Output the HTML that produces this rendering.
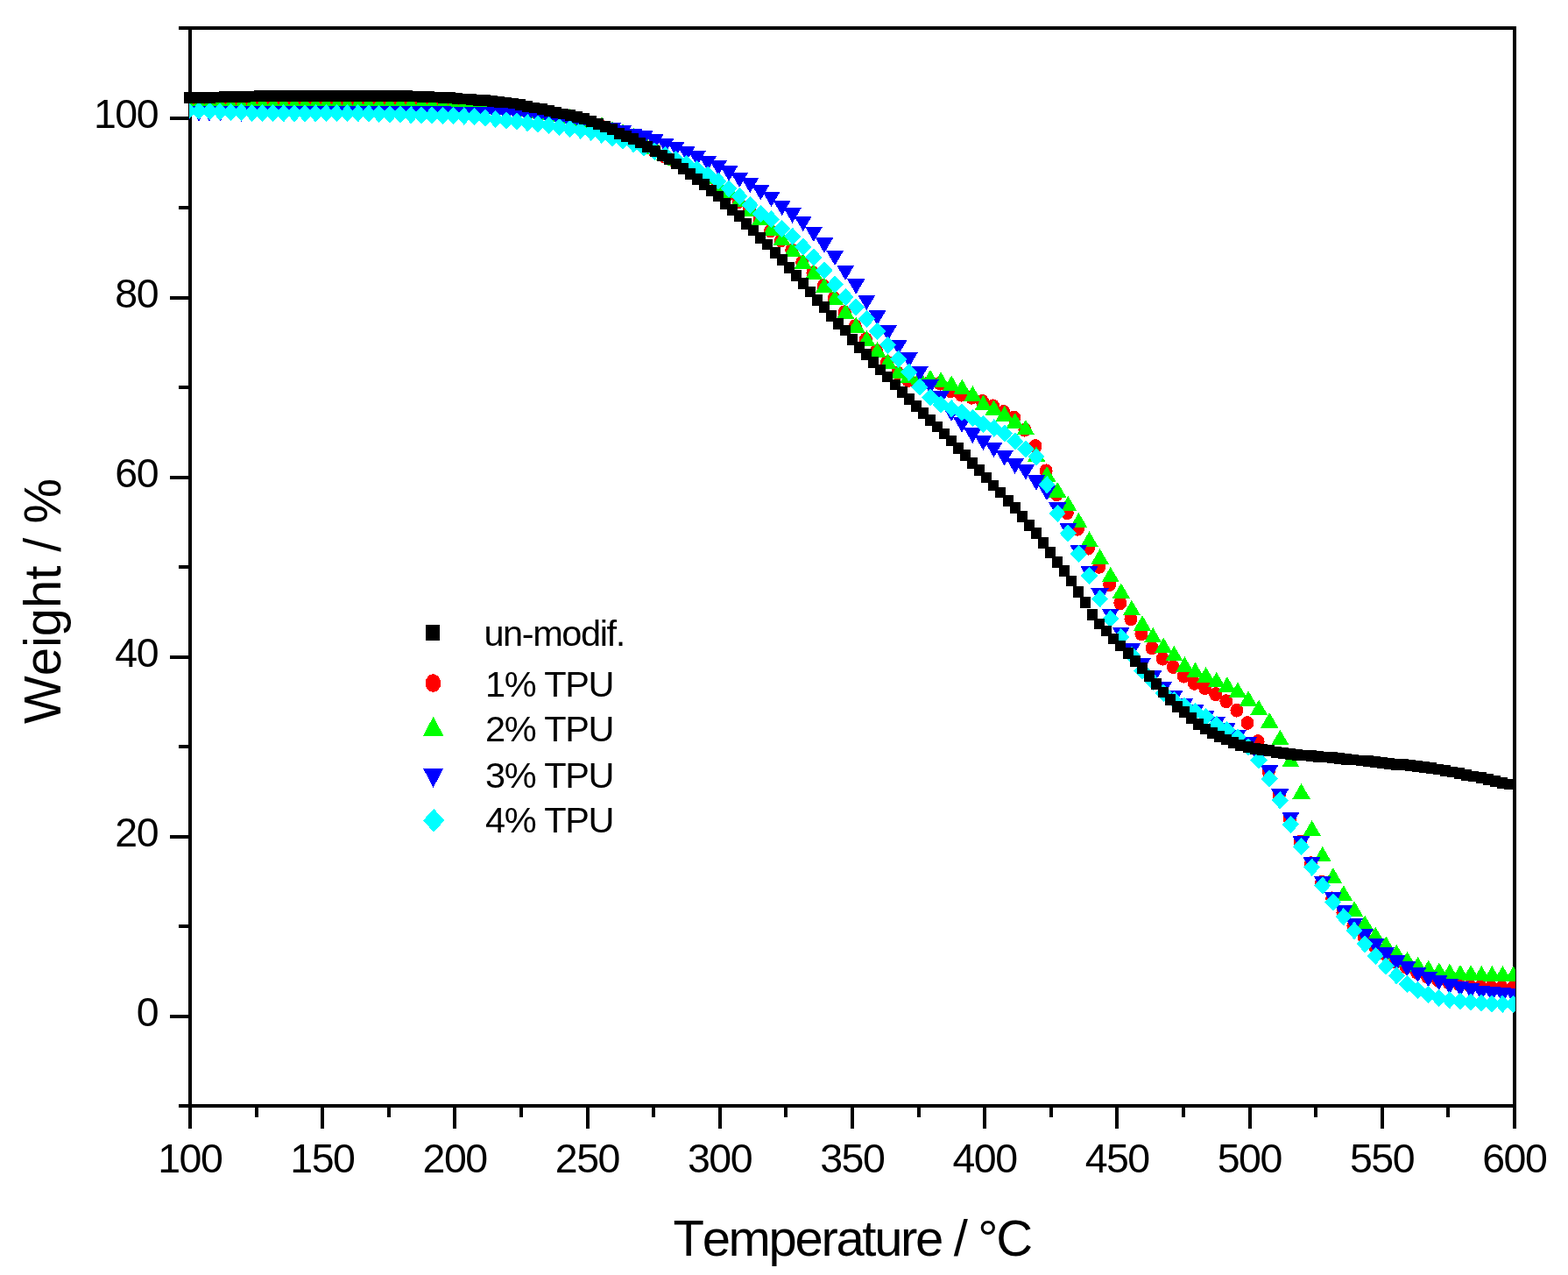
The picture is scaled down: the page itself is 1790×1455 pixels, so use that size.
<!DOCTYPE html>
<html><head><meta charset="utf-8"><title>TGA curves</title>
<style>
html,body{margin:0;padding:0;background:#fff;overflow:hidden}
svg{display:block}
text{font-family:"Liberation Sans",Arial,sans-serif;fill:#000;font-kerning:none}
</style></head><body>
<svg width="1790" height="1455" viewBox="0 0 1790 1455">
<defs><clipPath id="pc"><rect x="216" y="33" width="1514" height="1228"/></clipPath></defs>
<rect width="1790" height="1455" fill="#fff"/>

<path d="M217 1262v25.7M292.6 1262v13M368.2 1262v25.7M443.8 1262v13M519.4 1262v25.7M595 1262v13M670.6 1262v25.7M746.2 1262v13M821.8 1262v25.7M897.4 1262v13M973 1262v25.7M1048.6 1262v13M1124.2 1262v25.7M1199.8 1262v13M1275.4 1262v25.7M1351 1262v13M1426.6 1262v25.7M1502.2 1262v13M1577.8 1262v25.7M1653.4 1262v13M1729 1262v25.7M217 1262h-13M217 1159.5h-23.5M217 1057h-13M217 954.5h-23.5M217 852h-13M217 749.5h-23.5M217 647h-13M217 544.5h-23.5M217 442h-13M217 339.5h-23.5M217 237h-13M217 134.5h-23.5M217 32h-13" stroke="#000" stroke-width="4" fill="none" shape-rendering="crispEdges"/>
<rect x="217" y="32" width="1512" height="1230" fill="none" stroke="#000" stroke-width="4" shape-rendering="crispEdges"/>
<text x="216.8" y="1338.2" font-size="46.5" letter-spacing="-1.5" text-anchor="middle">100</text>
<text x="367.9" y="1338.2" font-size="46.5" letter-spacing="-1.5" text-anchor="middle">150</text>
<text x="519.1" y="1338.2" font-size="46.5" letter-spacing="-1.5" text-anchor="middle">200</text>
<text x="670.4" y="1338.2" font-size="46.5" letter-spacing="-1.5" text-anchor="middle">250</text>
<text x="821.5" y="1338.2" font-size="46.5" letter-spacing="-1.5" text-anchor="middle">300</text>
<text x="972.8" y="1338.2" font-size="46.5" letter-spacing="-1.5" text-anchor="middle">350</text>
<text x="1124" y="1338.2" font-size="46.5" letter-spacing="-1.5" text-anchor="middle">400</text>
<text x="1275.2" y="1338.2" font-size="46.5" letter-spacing="-1.5" text-anchor="middle">450</text>
<text x="1426.3" y="1338.2" font-size="46.5" letter-spacing="-1.5" text-anchor="middle">500</text>
<text x="1577.5" y="1338.2" font-size="46.5" letter-spacing="-1.5" text-anchor="middle">550</text>
<text x="1728.8" y="1338.2" font-size="46.5" letter-spacing="-1.5" text-anchor="middle">600</text>
<text x="180" y="1170.9" font-size="46.5" letter-spacing="-1.5" text-anchor="end">0</text>
<text x="180" y="965.9" font-size="46.5" letter-spacing="-1.5" text-anchor="end">20</text>
<text x="180" y="760.9" font-size="46.5" letter-spacing="-1.5" text-anchor="end">40</text>
<text x="180" y="555.9" font-size="46.5" letter-spacing="-1.5" text-anchor="end">60</text>
<text x="180" y="350.9" font-size="46.5" letter-spacing="-1.5" text-anchor="end">80</text>
<text x="180" y="145.9" font-size="46.5" letter-spacing="-1.5" text-anchor="end">100</text>
<text x="768.6" y="1432.5" font-size="58" letter-spacing="-2.33">Temperature / °C</text>
<text transform="translate(69.1 826) rotate(-90) scale(1 1.035)" font-size="58" letter-spacing="-0.05">Weight / %</text>
<g clip-path="url(#pc)" shape-rendering="crispEdges">
<path fill="#f00" d="M206.5 117a7.5 8 0 1 0 15 0a7.5 8 0 1 0 -15 0zM218.6 117a7.5 8 0 1 0 15 0a7.5 8 0 1 0 -15 0zM230.7 117a7.5 8 0 1 0 15 0a7.5 8 0 1 0 -15 0zM242.8 117a7.5 8 0 1 0 15 0a7.5 8 0 1 0 -15 0zM254.9 117a7.5 8 0 1 0 15 0a7.5 8 0 1 0 -15 0zM267 117a7.5 8 0 1 0 15 0a7.5 8 0 1 0 -15 0zM279.1 117a7.5 8 0 1 0 15 0a7.5 8 0 1 0 -15 0zM291.2 117a7.5 8 0 1 0 15 0a7.5 8 0 1 0 -15 0zM303.3 117a7.5 8 0 1 0 15 0a7.5 8 0 1 0 -15 0zM315.4 117a7.5 8 0 1 0 15 0a7.5 8 0 1 0 -15 0zM327.5 117a7.5 8 0 1 0 15 0a7.5 8 0 1 0 -15 0zM339.6 117a7.5 8 0 1 0 15 0a7.5 8 0 1 0 -15 0zM351.7 117a7.5 8 0 1 0 15 0a7.5 8 0 1 0 -15 0zM363.8 117a7.5 8 0 1 0 15 0a7.5 8 0 1 0 -15 0zM375.9 117a7.5 8 0 1 0 15 0a7.5 8 0 1 0 -15 0zM388 117a7.5 8 0 1 0 15 0a7.5 8 0 1 0 -15 0zM400.1 117a7.5 8 0 1 0 15 0a7.5 8 0 1 0 -15 0zM412.2 117a7.5 8 0 1 0 15 0a7.5 8 0 1 0 -15 0zM424.3 117a7.5 8 0 1 0 15 0a7.5 8 0 1 0 -15 0zM436.4 117a7.5 8 0 1 0 15 0a7.5 8 0 1 0 -15 0zM448.5 117a7.5 8 0 1 0 15 0a7.5 8 0 1 0 -15 0zM460.6 117a7.5 8 0 1 0 15 0a7.5 8 0 1 0 -15 0zM472.7 117.1a7.5 8 0 1 0 15 0a7.5 8 0 1 0 -15 0zM484.8 117.2a7.5 8 0 1 0 15 0a7.5 8 0 1 0 -15 0zM496.9 117.3a7.5 8 0 1 0 15 0a7.5 8 0 1 0 -15 0zM509 117.5a7.5 8 0 1 0 15 0a7.5 8 0 1 0 -15 0zM521.1 117.7a7.5 8 0 1 0 15 0a7.5 8 0 1 0 -15 0zM533.2 117.9a7.5 8 0 1 0 15 0a7.5 8 0 1 0 -15 0zM545.3 118.4a7.5 8 0 1 0 15 0a7.5 8 0 1 0 -15 0zM557.4 119.9a7.5 8 0 1 0 15 0a7.5 8 0 1 0 -15 0zM569.5 122a7.5 8 0 1 0 15 0a7.5 8 0 1 0 -15 0zM581.6 124.3a7.5 8 0 1 0 15 0a7.5 8 0 1 0 -15 0zM593.7 126.2a7.5 8 0 1 0 15 0a7.5 8 0 1 0 -15 0zM605.8 127.9a7.5 8 0 1 0 15 0a7.5 8 0 1 0 -15 0zM617.9 129.8a7.5 8 0 1 0 15 0a7.5 8 0 1 0 -15 0zM630 132.2a7.5 8 0 1 0 15 0a7.5 8 0 1 0 -15 0zM642.1 134.8a7.5 8 0 1 0 15 0a7.5 8 0 1 0 -15 0zM654.2 137.6a7.5 8 0 1 0 15 0a7.5 8 0 1 0 -15 0zM666.3 140.6a7.5 8 0 1 0 15 0a7.5 8 0 1 0 -15 0zM678.4 143.8a7.5 8 0 1 0 15 0a7.5 8 0 1 0 -15 0zM690.5 147.7a7.5 8 0 1 0 15 0a7.5 8 0 1 0 -15 0zM702.6 152.5a7.5 8 0 1 0 15 0a7.5 8 0 1 0 -15 0zM714.7 158.4a7.5 8 0 1 0 15 0a7.5 8 0 1 0 -15 0zM726.8 165a7.5 8 0 1 0 15 0a7.5 8 0 1 0 -15 0zM738.9 171.7a7.5 8 0 1 0 15 0a7.5 8 0 1 0 -15 0zM751 178.2a7.5 8 0 1 0 15 0a7.5 8 0 1 0 -15 0zM763.1 184.2a7.5 8 0 1 0 15 0a7.5 8 0 1 0 -15 0zM775.2 190a7.5 8 0 1 0 15 0a7.5 8 0 1 0 -15 0zM787.3 196.1a7.5 8 0 1 0 15 0a7.5 8 0 1 0 -15 0zM799.4 202.9a7.5 8 0 1 0 15 0a7.5 8 0 1 0 -15 0zM811.5 211.6a7.5 8 0 1 0 15 0a7.5 8 0 1 0 -15 0zM823.6 221.6a7.5 8 0 1 0 15 0a7.5 8 0 1 0 -15 0zM835.7 230.1a7.5 8 0 1 0 15 0a7.5 8 0 1 0 -15 0zM847.8 239.5a7.5 8 0 1 0 15 0a7.5 8 0 1 0 -15 0zM859.9 249.4a7.5 8 0 1 0 15 0a7.5 8 0 1 0 -15 0zM872 263.4a7.5 8 0 1 0 15 0a7.5 8 0 1 0 -15 0zM884.1 274.5a7.5 8 0 1 0 15 0a7.5 8 0 1 0 -15 0zM896.2 285.4a7.5 8 0 1 0 15 0a7.5 8 0 1 0 -15 0zM908.3 299.4a7.5 8 0 1 0 15 0a7.5 8 0 1 0 -15 0zM920.4 311.3a7.5 8 0 1 0 15 0a7.5 8 0 1 0 -15 0zM932.5 326.3a7.5 8 0 1 0 15 0a7.5 8 0 1 0 -15 0zM944.6 340.3a7.5 8 0 1 0 15 0a7.5 8 0 1 0 -15 0zM956.7 356.2a7.5 8 0 1 0 15 0a7.5 8 0 1 0 -15 0zM968.8 372.2a7.5 8 0 1 0 15 0a7.5 8 0 1 0 -15 0zM980.9 387.3a7.5 8 0 1 0 15 0a7.5 8 0 1 0 -15 0zM993 400.4a7.5 8 0 1 0 15 0a7.5 8 0 1 0 -15 0zM1005.1 413.4a7.5 8 0 1 0 15 0a7.5 8 0 1 0 -15 0zM1017.2 425.5a7.5 8 0 1 0 15 0a7.5 8 0 1 0 -15 0zM1029.3 433.9a7.5 8 0 1 0 15 0a7.5 8 0 1 0 -15 0zM1041.4 436a7.5 8 0 1 0 15 0a7.5 8 0 1 0 -15 0zM1053.5 436.5a7.5 8 0 1 0 15 0a7.5 8 0 1 0 -15 0zM1065.6 437.6a7.5 8 0 1 0 15 0a7.5 8 0 1 0 -15 0zM1077.7 446.3a7.5 8 0 1 0 15 0a7.5 8 0 1 0 -15 0zM1089.8 450.6a7.5 8 0 1 0 15 0a7.5 8 0 1 0 -15 0zM1101.9 453.7a7.5 8 0 1 0 15 0a7.5 8 0 1 0 -15 0zM1114 458.1a7.5 8 0 1 0 15 0a7.5 8 0 1 0 -15 0zM1126.1 463.4a7.5 8 0 1 0 15 0a7.5 8 0 1 0 -15 0zM1138.2 470a7.5 8 0 1 0 15 0a7.5 8 0 1 0 -15 0zM1150.3 476.6a7.5 8 0 1 0 15 0a7.5 8 0 1 0 -15 0zM1162.4 490.6a7.5 8 0 1 0 15 0a7.5 8 0 1 0 -15 0zM1174.5 509.2a7.5 8 0 1 0 15 0a7.5 8 0 1 0 -15 0zM1186.6 537.4a7.5 8 0 1 0 15 0a7.5 8 0 1 0 -15 0zM1198.7 564.4a7.5 8 0 1 0 15 0a7.5 8 0 1 0 -15 0zM1210.8 585.2a7.5 8 0 1 0 15 0a7.5 8 0 1 0 -15 0zM1222.9 603.7a7.5 8 0 1 0 15 0a7.5 8 0 1 0 -15 0zM1235 625.6a7.5 8 0 1 0 15 0a7.5 8 0 1 0 -15 0zM1247.1 646.9a7.5 8 0 1 0 15 0a7.5 8 0 1 0 -15 0zM1259.2 667a7.5 8 0 1 0 15 0a7.5 8 0 1 0 -15 0zM1271.3 688.3a7.5 8 0 1 0 15 0a7.5 8 0 1 0 -15 0zM1283.4 706.4a7.5 8 0 1 0 15 0a7.5 8 0 1 0 -15 0zM1295.5 723.5a7.5 8 0 1 0 15 0a7.5 8 0 1 0 -15 0zM1307.6 739.4a7.5 8 0 1 0 15 0a7.5 8 0 1 0 -15 0zM1319.7 751.6a7.5 8 0 1 0 15 0a7.5 8 0 1 0 -15 0zM1331.8 761a7.5 8 0 1 0 15 0a7.5 8 0 1 0 -15 0zM1343.9 771.6a7.5 8 0 1 0 15 0a7.5 8 0 1 0 -15 0zM1356 779.8a7.5 8 0 1 0 15 0a7.5 8 0 1 0 -15 0zM1368.1 785.1a7.5 8 0 1 0 15 0a7.5 8 0 1 0 -15 0zM1380.2 792.1a7.5 8 0 1 0 15 0a7.5 8 0 1 0 -15 0zM1392.3 800.2a7.5 8 0 1 0 15 0a7.5 8 0 1 0 -15 0zM1404.4 810.6a7.5 8 0 1 0 15 0a7.5 8 0 1 0 -15 0zM1416.5 825a7.5 8 0 1 0 15 0a7.5 8 0 1 0 -15 0zM1428.6 846.1a7.5 8 0 1 0 15 0a7.5 8 0 1 0 -15 0zM1440.7 881a7.5 8 0 1 0 15 0a7.5 8 0 1 0 -15 0zM1452.8 907.6a7.5 8 0 1 0 15 0a7.5 8 0 1 0 -15 0zM1464.9 934.6a7.5 8 0 1 0 15 0a7.5 8 0 1 0 -15 0zM1477 960.7a7.5 8 0 1 0 15 0a7.5 8 0 1 0 -15 0zM1489.1 985.2a7.5 8 0 1 0 15 0a7.5 8 0 1 0 -15 0zM1501.2 1006.8a7.5 8 0 1 0 15 0a7.5 8 0 1 0 -15 0zM1513.3 1025.4a7.5 8 0 1 0 15 0a7.5 8 0 1 0 -15 0zM1525.4 1041.3a7.5 8 0 1 0 15 0a7.5 8 0 1 0 -15 0zM1537.5 1056.5a7.5 8 0 1 0 15 0a7.5 8 0 1 0 -15 0zM1549.6 1069.6a7.5 8 0 1 0 15 0a7.5 8 0 1 0 -15 0zM1561.7 1079.7a7.5 8 0 1 0 15 0a7.5 8 0 1 0 -15 0zM1573.8 1088.7a7.5 8 0 1 0 15 0a7.5 8 0 1 0 -15 0zM1585.9 1097.3a7.5 8 0 1 0 15 0a7.5 8 0 1 0 -15 0zM1598 1103.8a7.5 8 0 1 0 15 0a7.5 8 0 1 0 -15 0zM1610.1 1109.8a7.5 8 0 1 0 15 0a7.5 8 0 1 0 -15 0zM1622.2 1114.9a7.5 8 0 1 0 15 0a7.5 8 0 1 0 -15 0zM1634.3 1118.4a7.5 8 0 1 0 15 0a7.5 8 0 1 0 -15 0zM1646.4 1121.4a7.5 8 0 1 0 15 0a7.5 8 0 1 0 -15 0zM1658.5 1123.4a7.5 8 0 1 0 15 0a7.5 8 0 1 0 -15 0zM1670.6 1125a7.5 8 0 1 0 15 0a7.5 8 0 1 0 -15 0zM1682.7 1126a7.5 8 0 1 0 15 0a7.5 8 0 1 0 -15 0zM1694.8 1126.5a7.5 8 0 1 0 15 0a7.5 8 0 1 0 -15 0zM1706.9 1127a7.5 8 0 1 0 15 0a7.5 8 0 1 0 -15 0zM1719 1127.5a7.5 8 0 1 0 15 0a7.5 8 0 1 0 -15 0z"/>
<path fill="#0f0" d="M215 109.2l10.2 17.5h-20.3zM227.1 109.2l10.2 17.5h-20.3zM239.2 109.2l10.2 17.5h-20.3zM251.3 109.2l10.2 17.5h-20.3zM263.4 109.2l10.2 17.5h-20.3zM275.5 109.2l10.2 17.5h-20.3zM287.6 109.2l10.2 17.5h-20.3zM299.7 109.2l10.2 17.5h-20.3zM311.8 109.2l10.2 17.5h-20.3zM323.9 109.2l10.2 17.5h-20.3zM336 109.2l10.2 17.5h-20.3zM348.1 109.2l10.2 17.5h-20.3zM360.2 109.2l10.2 17.5h-20.3zM372.3 109.2l10.2 17.5h-20.3zM384.4 109.2l10.2 17.5h-20.3zM396.5 109.2l10.2 17.5h-20.3zM408.6 109.2l10.2 17.5h-20.3zM420.7 109.2l10.2 17.5h-20.3zM432.8 109.2l10.2 17.5h-20.3zM444.9 109.2l10.2 17.5h-20.3zM457 109.3l10.2 17.5h-20.3zM469.1 109.3l10.2 17.5h-20.3zM481.2 109.3l10.2 17.5h-20.3zM493.3 109.3l10.2 17.5h-20.3zM505.4 109.4l10.2 17.5h-20.3zM517.5 109.5l10.2 17.5h-20.3zM529.6 109.6l10.2 17.5h-20.3zM541.7 109.7l10.2 17.5h-20.3zM553.8 110l10.2 17.5h-20.3zM565.9 110.9l10.2 17.5h-20.3zM578 112.1l10.2 17.5h-20.3zM590.1 113.4l10.2 17.5h-20.3zM602.2 115.1l10.2 17.5h-20.3zM614.3 117.2l10.2 17.5h-20.3zM626.4 119.5l10.2 17.5h-20.3zM638.5 121.6l10.2 17.5h-20.3zM650.6 123.9l10.2 17.5h-20.3zM662.7 127.5l10.2 17.5h-20.3zM674.8 131l10.2 17.5h-20.3zM686.9 133.1l10.2 17.5h-20.3zM699 138.2l10.2 17.5h-20.3zM711.1 141.1l10.2 17.5h-20.3zM723.2 145.7l10.2 17.5h-20.3zM735.3 151.7l10.2 17.5h-20.3zM747.4 158.3l10.2 17.5h-20.3zM759.5 165l10.2 17.5h-20.3zM771.6 171.6l10.2 17.5h-20.3zM783.7 178.5l10.2 17.5h-20.3zM795.8 185.5l10.2 17.5h-20.3zM807.9 192.7l10.2 17.5h-20.3zM820 200.1l10.2 17.5h-20.3zM832.1 208.3l10.2 17.5h-20.3zM844.2 218.7l10.2 17.5h-20.3zM856.3 229.4l10.2 17.5h-20.3zM868.4 239l10.2 17.5h-20.3zM880.5 251.7l10.2 17.5h-20.3zM892.6 262.7l10.2 17.5h-20.3zM904.7 275.6l10.2 17.5h-20.3zM916.8 289.3l10.2 17.5h-20.3zM928.9 301.7l10.2 17.5h-20.3zM941 316.7l10.2 17.5h-20.3zM953.1 330.5l10.2 17.5h-20.3zM965.2 346.3l10.2 17.5h-20.3zM977.3 362.1l10.2 17.5h-20.3zM989.4 377.3l10.2 17.5h-20.3zM1001.5 390.4l10.2 17.5h-20.3zM1013.6 403.4l10.2 17.5h-20.3zM1025.7 414.9l10.2 17.5h-20.3zM1037.8 419.1l10.2 17.5h-20.3zM1049.9 421.2l10.2 17.5h-20.3zM1062 421.8l10.2 17.5h-20.3zM1074.1 424.3l10.2 17.5h-20.3zM1086.2 428.4l10.2 17.5h-20.3zM1098.3 432.6l10.2 17.5h-20.3zM1110.4 440.2l10.2 17.5h-20.3zM1122.5 450.7l10.2 17.5h-20.3zM1134.6 456.4l10.2 17.5h-20.3zM1146.7 463l10.2 17.5h-20.3zM1158.8 471.1l10.2 17.5h-20.3zM1170.9 478.9l10.2 17.5h-20.3zM1183 509.1l10.2 17.5h-20.3zM1195.1 532l10.2 17.5h-20.3zM1207.2 550.1l10.2 17.5h-20.3zM1219.3 565.8l10.2 17.5h-20.3zM1231.4 584.9l10.2 17.5h-20.3zM1243.5 606.2l10.2 17.5h-20.3zM1255.6 626.1l10.2 17.5h-20.3zM1267.7 646.8l10.2 17.5h-20.3zM1279.8 665.4l10.2 17.5h-20.3zM1291.9 684.8l10.2 17.5h-20.3zM1304 702.2l10.2 17.5h-20.3zM1316.1 715.8l10.2 17.5h-20.3zM1328.2 727.5l10.2 17.5h-20.3zM1340.3 736.8l10.2 17.5h-20.3zM1352.4 749.2l10.2 17.5h-20.3zM1364.5 755.7l10.2 17.5h-20.3zM1376.6 761l10.2 17.5h-20.3zM1388.7 766.8l10.2 17.5h-20.3zM1400.8 772.1l10.2 17.5h-20.3zM1412.9 778.4l10.2 17.5h-20.3zM1425 788.2l10.2 17.5h-20.3zM1437.1 798.7l10.2 17.5h-20.3zM1449.2 813l10.2 17.5h-20.3zM1461.3 832.7l10.2 17.5h-20.3zM1473.4 857.9l10.2 17.5h-20.3zM1485.5 894l10.2 17.5h-20.3zM1497.6 936.1l10.2 17.5h-20.3zM1509.7 965.9l10.2 17.5h-20.3zM1521.8 990.1l10.2 17.5h-20.3zM1533.9 1010.3l10.2 17.5h-20.3zM1546 1028.2l10.2 17.5h-20.3zM1558.1 1044.5l10.2 17.5h-20.3zM1570.2 1057.6l10.2 17.5h-20.3zM1582.3 1068.4l10.2 17.5h-20.3zM1594.4 1077.9l10.2 17.5h-20.3zM1606.5 1085.8l10.2 17.5h-20.3zM1618.6 1091.7l10.2 17.5h-20.3zM1630.7 1095.6l10.2 17.5h-20.3zM1642.8 1098.3l10.2 17.5h-20.3zM1654.9 1099.7l10.2 17.5h-20.3zM1667 1100.9l10.2 17.5h-20.3zM1679.1 1101.2l10.2 17.5h-20.3zM1691.2 1101.9l10.2 17.5h-20.3zM1703.3 1102l10.2 17.5h-20.3zM1715.4 1102l10.2 17.5h-20.3zM1727.5 1102.6l10.2 17.5h-20.3z"/>
<path fill="#00f" d="M204.8 121.1h20.3l-10.2 17.5zM216.9 121.1h20.3l-10.2 17.5zM229 121.1h20.3l-10.2 17.5zM241.2 121.1h20.3l-10.2 17.5zM253.2 121.1h20.3l-10.2 17.5zM265.4 121.1h20.3l-10.2 17.5zM277.5 121.1h20.3l-10.2 17.5zM289.6 121.1h20.3l-10.2 17.5zM301.7 121.1h20.3l-10.2 17.5zM313.8 121.1h20.3l-10.2 17.5zM325.9 121.1h20.3l-10.2 17.5zM338 121.1h20.3l-10.2 17.5zM350.1 121.1h20.3l-10.2 17.5zM362.1 121.1h20.3l-10.2 17.5zM374.2 121.1h20.3l-10.2 17.5zM386.4 121.1h20.3l-10.2 17.5zM398.5 121.1h20.3l-10.2 17.5zM410.6 121.1h20.3l-10.2 17.5zM422.6 121.1h20.3l-10.2 17.5zM434.8 121.1h20.3l-10.2 17.5zM446.9 121.1h20.3l-10.2 17.5zM459 121.2h20.3l-10.2 17.5zM471.1 121.3h20.3l-10.2 17.5zM483.2 121.3h20.3l-10.2 17.5zM495.2 121.4h20.3l-10.2 17.5zM507.4 121.5h20.3l-10.2 17.5zM519.4 121.6h20.3l-10.2 17.5zM531.6 121.8h20.3l-10.2 17.5zM543.6 122.1h20.3l-10.2 17.5zM555.8 122.7h20.3l-10.2 17.5zM567.9 123.3h20.3l-10.2 17.5zM579.9 124h20.3l-10.2 17.5zM592.1 124.9h20.3l-10.2 17.5zM604.1 126.3h20.3l-10.2 17.5zM616.2 128h20.3l-10.2 17.5zM628.4 129.8h20.3l-10.2 17.5zM640.4 131.8h20.3l-10.2 17.5zM652.6 133.9h20.3l-10.2 17.5zM664.6 135.8h20.3l-10.2 17.5zM676.8 137.6h20.3l-10.2 17.5zM688.9 139.8h20.3l-10.2 17.5zM700.9 143.1h20.3l-10.2 17.5zM713.1 147.1h20.3l-10.2 17.5zM725.1 149.3h20.3l-10.2 17.5zM737.2 153.3h20.3l-10.2 17.5zM749.4 157.6h20.3l-10.2 17.5zM761.5 161.5h20.3l-10.2 17.5zM773.5 166.8h20.3l-10.2 17.5zM785.6 172.1h20.3l-10.2 17.5zM797.8 177.8h20.3l-10.2 17.5zM809.9 182.7h20.3l-10.2 17.5zM822 189.3h20.3l-10.2 17.5zM834 196.5h20.3l-10.2 17.5zM846.1 202.8h20.3l-10.2 17.5zM858.2 210.9h20.3l-10.2 17.5zM870.4 218.5h20.3l-10.2 17.5zM882.5 228.6h20.3l-10.2 17.5zM894.5 237.2h20.3l-10.2 17.5zM906.6 246.5h20.3l-10.2 17.5zM918.8 258.5h20.3l-10.2 17.5zM930.9 271.4h20.3l-10.2 17.5zM943 285.7h20.3l-10.2 17.5zM955 302.6h20.3l-10.2 17.5zM967.1 318.4h20.3l-10.2 17.5zM979.2 336.5h20.3l-10.2 17.5zM991.4 353.8h20.3l-10.2 17.5zM1003.5 371.4h20.3l-10.2 17.5zM1015.5 387.6h20.3l-10.2 17.5zM1027.6 401.9h20.3l-10.2 17.5zM1039.8 417.6h20.3l-10.2 17.5zM1051.8 432.6h20.3l-10.2 17.5zM1063.9 445.7h20.3l-10.2 17.5zM1076 463.6h20.3l-10.2 17.5zM1088.1 476.2h20.3l-10.2 17.5zM1100.2 488.4h20.3l-10.2 17.5zM1112.3 496.5h20.3l-10.2 17.5zM1124.4 504.6h20.3l-10.2 17.5zM1136.5 514h20.3l-10.2 17.5zM1148.6 523.4h20.3l-10.2 17.5zM1160.8 530.1h20.3l-10.2 17.5zM1172.8 542.2h20.3l-10.2 17.5zM1184.9 553.7h20.3l-10.2 17.5zM1197 573.4h20.3l-10.2 17.5zM1209.1 596.6h20.3l-10.2 17.5zM1221.2 621.5h20.3l-10.2 17.5zM1233.3 646h20.3l-10.2 17.5zM1245.4 671.4h20.3l-10.2 17.5zM1257.5 694.5h20.3l-10.2 17.5zM1269.6 715.5h20.3l-10.2 17.5zM1281.7 734.3h20.3l-10.2 17.5zM1293.8 750.6h20.3l-10.2 17.5zM1305.9 765.4h20.3l-10.2 17.5zM1318 777.7h20.3l-10.2 17.5zM1330.1 788.2h20.3l-10.2 17.5zM1342.2 796.5h20.3l-10.2 17.5zM1354.3 804.1h20.3l-10.2 17.5zM1366.4 811.1h20.3l-10.2 17.5zM1378.5 818.1h20.3l-10.2 17.5zM1390.6 824.5h20.3l-10.2 17.5zM1402.7 832.7h20.3l-10.2 17.5zM1414.8 841.4h20.3l-10.2 17.5zM1426.9 855.7h20.3l-10.2 17.5zM1439 873.4h20.3l-10.2 17.5zM1451.1 900.1h20.3l-10.2 17.5zM1463.2 926.9h20.3l-10.2 17.5zM1475.3 953.7h20.3l-10.2 17.5zM1487.4 977.9h20.3l-10.2 17.5zM1499.5 999.7h20.3l-10.2 17.5zM1511.6 1017.8h20.3l-10.2 17.5zM1523.7 1033.1h20.3l-10.2 17.5zM1535.8 1047.5h20.3l-10.2 17.5zM1547.9 1059.9h20.3l-10.2 17.5zM1560 1071.4h20.3l-10.2 17.5zM1572.1 1080.9h20.3l-10.2 17.5zM1584.2 1090.4h20.3l-10.2 17.5zM1596.3 1096.8h20.3l-10.2 17.5zM1608.4 1103.7h20.3l-10.2 17.5zM1620.5 1109h20.3l-10.2 17.5zM1632.6 1112.8h20.3l-10.2 17.5zM1644.7 1117h20.3l-10.2 17.5zM1656.8 1119.7h20.3l-10.2 17.5zM1668.9 1122.4h20.3l-10.2 17.5zM1681 1124.7h20.3l-10.2 17.5zM1693.1 1126.2h20.3l-10.2 17.5zM1705.2 1127.4h20.3l-10.2 17.5zM1717.3 1128.2h20.3l-10.2 17.5z"/>
<path fill="#0ff" d="M215 116.4l9.6 10.1l-9.6 10.1l-9.6 -10.1zM227.1 116.7l9.6 10.1l-9.6 10.1l-9.6 -10.1zM239.2 116.9l9.6 10.1l-9.6 10.1l-9.6 -10.1zM251.3 117.3l9.6 10.1l-9.6 10.1l-9.6 -10.1zM263.4 117.8l9.6 10.1l-9.6 10.1l-9.6 -10.1zM275.5 118.2l9.6 10.1l-9.6 10.1l-9.6 -10.1zM287.6 118.6l9.6 10.1l-9.6 10.1l-9.6 -10.1zM299.7 118.8l9.6 10.1l-9.6 10.1l-9.6 -10.1zM311.8 118.9l9.6 10.1l-9.6 10.1l-9.6 -10.1zM323.9 119l9.6 10.1l-9.6 10.1l-9.6 -10.1zM336 119l9.6 10.1l-9.6 10.1l-9.6 -10.1zM348.1 119.1l9.6 10.1l-9.6 10.1l-9.6 -10.1zM360.2 119.1l9.6 10.1l-9.6 10.1l-9.6 -10.1zM372.3 119.1l9.6 10.1l-9.6 10.1l-9.6 -10.1zM384.4 119.2l9.6 10.1l-9.6 10.1l-9.6 -10.1zM396.5 119.3l9.6 10.1l-9.6 10.1l-9.6 -10.1zM408.6 119.3l9.6 10.1l-9.6 10.1l-9.6 -10.1zM420.7 119.5l9.6 10.1l-9.6 10.1l-9.6 -10.1zM432.8 119.8l9.6 10.1l-9.6 10.1l-9.6 -10.1zM444.9 120.2l9.6 10.1l-9.6 10.1l-9.6 -10.1zM457 120.6l9.6 10.1l-9.6 10.1l-9.6 -10.1zM469.1 121l9.6 10.1l-9.6 10.1l-9.6 -10.1zM481.2 121.3l9.6 10.1l-9.6 10.1l-9.6 -10.1zM493.3 121.5l9.6 10.1l-9.6 10.1l-9.6 -10.1zM505.4 121.8l9.6 10.1l-9.6 10.1l-9.6 -10.1zM517.5 122l9.6 10.1l-9.6 10.1l-9.6 -10.1zM529.6 122.4l9.6 10.1l-9.6 10.1l-9.6 -10.1zM541.7 122.9l9.6 10.1l-9.6 10.1l-9.6 -10.1zM553.8 124.6l9.6 10.1l-9.6 10.1l-9.6 -10.1zM565.9 125.9l9.6 10.1l-9.6 10.1l-9.6 -10.1zM578 127.2l9.6 10.1l-9.6 10.1l-9.6 -10.1zM590.1 128.6l9.6 10.1l-9.6 10.1l-9.6 -10.1zM602.2 130.1l9.6 10.1l-9.6 10.1l-9.6 -10.1zM614.3 131.5l9.6 10.1l-9.6 10.1l-9.6 -10.1zM626.4 133.1l9.6 10.1l-9.6 10.1l-9.6 -10.1zM638.5 134.8l9.6 10.1l-9.6 10.1l-9.6 -10.1zM650.6 136.7l9.6 10.1l-9.6 10.1l-9.6 -10.1zM662.7 138.6l9.6 10.1l-9.6 10.1l-9.6 -10.1zM674.8 140.7l9.6 10.1l-9.6 10.1l-9.6 -10.1zM686.9 143.8l9.6 10.1l-9.6 10.1l-9.6 -10.1zM699 147.4l9.6 10.1l-9.6 10.1l-9.6 -10.1zM711.1 150.6l9.6 10.1l-9.6 10.1l-9.6 -10.1zM723.2 154.1l9.6 10.1l-9.6 10.1l-9.6 -10.1zM735.3 158.5l9.6 10.1l-9.6 10.1l-9.6 -10.1zM747.4 162.5l9.6 10.1l-9.6 10.1l-9.6 -10.1zM759.5 167l9.6 10.1l-9.6 10.1l-9.6 -10.1zM771.6 171.8l9.6 10.1l-9.6 10.1l-9.6 -10.1zM783.7 177.1l9.6 10.1l-9.6 10.1l-9.6 -10.1zM795.8 182.9l9.6 10.1l-9.6 10.1l-9.6 -10.1zM807.9 189.3l9.6 10.1l-9.6 10.1l-9.6 -10.1zM820 196.7l9.6 10.1l-9.6 10.1l-9.6 -10.1zM832.1 205.1l9.6 10.1l-9.6 10.1l-9.6 -10.1zM844.2 213.9l9.6 10.1l-9.6 10.1l-9.6 -10.1zM856.3 223.9l9.6 10.1l-9.6 10.1l-9.6 -10.1zM868.4 233.9l9.6 10.1l-9.6 10.1l-9.6 -10.1zM880.5 240.3l9.6 10.1l-9.6 10.1l-9.6 -10.1zM892.6 250.8l9.6 10.1l-9.6 10.1l-9.6 -10.1zM904.7 259.6l9.6 10.1l-9.6 10.1l-9.6 -10.1zM916.8 271.5l9.6 10.1l-9.6 10.1l-9.6 -10.1zM928.9 283.6l9.6 10.1l-9.6 10.1l-9.6 -10.1zM941 298.3l9.6 10.1l-9.6 10.1l-9.6 -10.1zM953.1 314.6l9.6 10.1l-9.6 10.1l-9.6 -10.1zM965.2 328.9l9.6 10.1l-9.6 10.1l-9.6 -10.1zM977.3 340.3l9.6 10.1l-9.6 10.1l-9.6 -10.1zM989.4 353.7l9.6 10.1l-9.6 10.1l-9.6 -10.1zM1001.5 368l9.6 10.1l-9.6 10.1l-9.6 -10.1zM1013.6 383.6l9.6 10.1l-9.6 10.1l-9.6 -10.1zM1025.7 399.6l9.6 10.1l-9.6 10.1l-9.6 -10.1zM1037.8 414.7l9.6 10.1l-9.6 10.1l-9.6 -10.1zM1049.9 431.6l9.6 10.1l-9.6 10.1l-9.6 -10.1zM1062 443.4l9.6 10.1l-9.6 10.1l-9.6 -10.1zM1074.1 451.5l9.6 10.1l-9.6 10.1l-9.6 -10.1zM1086.2 456.1l9.6 10.1l-9.6 10.1l-9.6 -10.1zM1098.3 460.5l9.6 10.1l-9.6 10.1l-9.6 -10.1zM1110.4 466.7l9.6 10.1l-9.6 10.1l-9.6 -10.1zM1122.5 473.9l9.6 10.1l-9.6 10.1l-9.6 -10.1zM1134.6 478.4l9.6 10.1l-9.6 10.1l-9.6 -10.1zM1146.7 484.5l9.6 10.1l-9.6 10.1l-9.6 -10.1zM1158.8 493.5l9.6 10.1l-9.6 10.1l-9.6 -10.1zM1170.9 502.4l9.6 10.1l-9.6 10.1l-9.6 -10.1zM1183 511.1l9.6 10.1l-9.6 10.1l-9.6 -10.1zM1195.1 543l9.6 10.1l-9.6 10.1l-9.6 -10.1zM1207.2 575.8l9.6 10.1l-9.6 10.1l-9.6 -10.1zM1219.3 598.5l9.6 10.1l-9.6 10.1l-9.6 -10.1zM1231.4 622l9.6 10.1l-9.6 10.1l-9.6 -10.1zM1243.5 646.9l9.6 10.1l-9.6 10.1l-9.6 -10.1zM1255.6 673.3l9.6 10.1l-9.6 10.1l-9.6 -10.1zM1267.7 696.2l9.6 10.1l-9.6 10.1l-9.6 -10.1zM1279.8 717.1l9.6 10.1l-9.6 10.1l-9.6 -10.1zM1291.9 737.3l9.6 10.1l-9.6 10.1l-9.6 -10.1zM1304 755.5l9.6 10.1l-9.6 10.1l-9.6 -10.1zM1316.1 767.9l9.6 10.1l-9.6 10.1l-9.6 -10.1zM1328.2 780.7l9.6 10.1l-9.6 10.1l-9.6 -10.1zM1340.3 789l9.6 10.1l-9.6 10.1l-9.6 -10.1zM1352.4 795.4l9.6 10.1l-9.6 10.1l-9.6 -10.1zM1364.5 801.9l9.6 10.1l-9.6 10.1l-9.6 -10.1zM1376.6 807.7l9.6 10.1l-9.6 10.1l-9.6 -10.1zM1388.7 816.6l9.6 10.1l-9.6 10.1l-9.6 -10.1zM1400.8 823l9.6 10.1l-9.6 10.1l-9.6 -10.1zM1412.9 831.1l9.6 10.1l-9.6 10.1l-9.6 -10.1zM1425 842.4l9.6 10.1l-9.6 10.1l-9.6 -10.1zM1437.1 857.4l9.6 10.1l-9.6 10.1l-9.6 -10.1zM1449.2 878.5l9.6 10.1l-9.6 10.1l-9.6 -10.1zM1461.3 903.2l9.6 10.1l-9.6 10.1l-9.6 -10.1zM1473.4 930.7l9.6 10.1l-9.6 10.1l-9.6 -10.1zM1485.5 956.1l9.6 10.1l-9.6 10.1l-9.6 -10.1zM1497.6 979.5l9.6 10.1l-9.6 10.1l-9.6 -10.1zM1509.7 1000.5l9.6 10.1l-9.6 10.1l-9.6 -10.1zM1521.8 1019.4l9.6 10.1l-9.6 10.1l-9.6 -10.1zM1533.9 1036l9.6 10.1l-9.6 10.1l-9.6 -10.1zM1546 1051.9l9.6 10.1l-9.6 10.1l-9.6 -10.1zM1558.1 1067.1l9.6 10.1l-9.6 10.1l-9.6 -10.1zM1570.2 1080.8l9.6 10.1l-9.6 10.1l-9.6 -10.1zM1582.3 1092.5l9.6 10.1l-9.6 10.1l-9.6 -10.1zM1594.4 1103.3l9.6 10.1l-9.6 10.1l-9.6 -10.1zM1606.5 1112.8l9.6 10.1l-9.6 10.1l-9.6 -10.1zM1618.6 1120.1l9.6 10.1l-9.6 10.1l-9.6 -10.1zM1630.7 1125.1l9.6 10.1l-9.6 10.1l-9.6 -10.1zM1642.8 1128.9l9.6 10.1l-9.6 10.1l-9.6 -10.1zM1654.9 1131l9.6 10.1l-9.6 10.1l-9.6 -10.1zM1667 1132.5l9.6 10.1l-9.6 10.1l-9.6 -10.1zM1679.1 1133.5l9.6 10.1l-9.6 10.1l-9.6 -10.1zM1691.2 1134.3l9.6 10.1l-9.6 10.1l-9.6 -10.1zM1703.3 1135.4l9.6 10.1l-9.6 10.1l-9.6 -10.1zM1715.4 1135.5l9.6 10.1l-9.6 10.1l-9.6 -10.1zM1727.5 1136.1l9.6 10.1l-9.6 10.1l-9.6 -10.1z"/>
</g>
<path fill="#000" shape-rendering="crispEdges" d="M209.5 105.2h12v12.8h-12zM217.6 105h12v12.8h-12zM225.6 104.9h12v12.8h-12zM233.7 104.7h12v12.8h-12zM241.7 104.5h12v12.8h-12zM249.8 104.3h12v12.8h-12zM257.9 104.1h12v12.8h-12zM265.9 103.9h12v12.8h-12zM274 103.7h12v12.8h-12zM282 103.6h12v12.8h-12zM290.1 103.4h12v12.8h-12zM298.2 103.4h12v12.8h-12zM306.2 103.3h12v12.8h-12zM314.3 103.2h12v12.8h-12zM322.3 103.2h12v12.8h-12zM330.4 103.1h12v12.8h-12zM338.5 103.1h12v12.8h-12zM346.5 103h12v12.8h-12zM354.6 103h12v12.8h-12zM362.6 103h12v12.8h-12zM370.7 102.9h12v12.8h-12zM378.8 102.9h12v12.8h-12zM386.8 102.9h12v12.8h-12zM394.9 102.9h12v12.8h-12zM402.9 102.9h12v12.8h-12zM411 102.9h12v12.8h-12zM419.1 103h12v12.8h-12zM427.1 103h12v12.8h-12zM435.2 103h12v12.8h-12zM443.2 103.1h12v12.8h-12zM451.3 103.2h12v12.8h-12zM459.4 103.4h12v12.8h-12zM467.4 103.6h12v12.8h-12zM475.5 103.9h12v12.8h-12zM483.5 104.2h12v12.8h-12zM491.6 104.5h12v12.8h-12zM499.7 104.9h12v12.8h-12zM507.7 105.3h12v12.8h-12zM515.8 105.9h12v12.8h-12zM523.8 106.5h12v12.8h-12zM531.9 107.1h12v12.8h-12zM540 107.7h12v12.8h-12zM548 108.3h12v12.8h-12zM556.1 109h12v12.8h-12zM564.1 109.7h12v12.8h-12zM572.2 110.5h12v12.8h-12zM580.3 111.5h12v12.8h-12zM588.3 113h12v12.8h-12zM596.4 114.7h12v12.8h-12zM604.4 116.5h12v12.8h-12zM612.5 118.3h12v12.8h-12zM620.6 120.2h12v12.8h-12zM628.6 122h12v12.8h-12zM636.7 123.6h12v12.8h-12zM644.7 125.2h12v12.8h-12zM652.8 126.9h12v12.8h-12zM660.9 129h12v12.8h-12zM668.9 131.9h12v12.8h-12zM677 135.1h12v12.8h-12zM685 138.1h12v12.8h-12zM693.1 141.4h12v12.8h-12zM701.2 145.8h12v12.8h-12zM709.2 148.9h12v12.8h-12zM717.3 152.4h12v12.8h-12zM725.3 156.6h12v12.8h-12zM733.4 160.8h12v12.8h-12zM741.5 165.7h12v12.8h-12zM749.5 171.1h12v12.8h-12zM757.6 175.3h12v12.8h-12zM765.6 180.5h12v12.8h-12zM773.7 185.7h12v12.8h-12zM781.8 192.4h12v12.8h-12zM789.8 197.8h12v12.8h-12zM797.9 204.4h12v12.8h-12zM805.9 211.2h12v12.8h-12zM814 217.6h12v12.8h-12zM822.1 226h12v12.8h-12zM830.1 232.7h12v12.8h-12zM838.2 240.3h12v12.8h-12zM846.2 248.7h12v12.8h-12zM854.3 256.5h12v12.8h-12zM862.4 264.9h12v12.8h-12zM870.4 272.5h12v12.8h-12zM878.5 281.9h12v12.8h-12zM886.5 290.3h12v12.8h-12zM894.6 299.4h12v12.8h-12zM902.7 307.9h12v12.8h-12zM910.7 317h12v12.8h-12zM918.8 326.6h12v12.8h-12zM926.8 336.3h12v12.8h-12zM934.9 344.3h12v12.8h-12zM943 353.9h12v12.8h-12zM951 363.1h12v12.8h-12zM959.1 370.6h12v12.8h-12zM967.1 380.7h12v12.8h-12zM975.2 389.8h12v12.8h-12zM983.3 397.8h12v12.8h-12zM991.3 407.3h12v12.8h-12zM999.4 415.6h12v12.8h-12zM1007.4 423.6h12v12.8h-12zM1015.5 432.6h12v12.8h-12zM1023.6 440.7h12v12.8h-12zM1031.6 449.3h12v12.8h-12zM1039.7 457.3h12v12.8h-12zM1047.7 465.2h12v12.8h-12zM1055.8 473.2h12v12.8h-12zM1063.9 480.5h12v12.8h-12zM1071.9 488.6h12v12.8h-12zM1080 496.6h12v12.8h-12zM1088 505.1h12v12.8h-12zM1096.1 513.3h12v12.8h-12zM1104.2 522h12v12.8h-12zM1112.2 529.8h12v12.8h-12zM1120.3 538.6h12v12.8h-12zM1128.3 547.5h12v12.8h-12zM1136.4 555.5h12v12.8h-12zM1144.5 565.2h12v12.8h-12zM1152.5 573.4h12v12.8h-12zM1160.6 582.8h12v12.8h-12zM1168.6 593.3h12v12.8h-12zM1176.7 602.1h12v12.8h-12zM1184.8 613.1h12v12.8h-12zM1192.8 624.4h12v12.8h-12zM1200.9 634.7h12v12.8h-12zM1208.9 644.9h12v12.8h-12zM1217 656.6h12v12.8h-12zM1225.1 669.4h12v12.8h-12zM1233.1 681.2h12v12.8h-12zM1241.2 694.8h12v12.8h-12zM1249.2 705.6h12v12.8h-12zM1257.3 713.6h12v12.8h-12zM1265.4 722.5h12v12.8h-12zM1273.4 730.5h12v12.8h-12zM1281.5 739.4h12v12.8h-12zM1289.5 748.2h12v12.8h-12zM1297.6 756.4h12v12.8h-12zM1305.7 765.1h12v12.8h-12zM1313.7 774.3h12v12.8h-12zM1321.8 783.6h12v12.8h-12zM1329.8 792.2h12v12.8h-12zM1337.9 799.8h12v12.8h-12zM1346 806.4h12v12.8h-12zM1354 812.9h12v12.8h-12zM1362.1 819.9h12v12.8h-12zM1370.1 825.6h12v12.8h-12zM1378.2 829.9h12v12.8h-12zM1386.3 834.2h12v12.8h-12zM1394.3 837.6h12v12.8h-12zM1402.4 840.9h12v12.8h-12zM1410.4 844.2h12v12.8h-12zM1418.5 846.2h12v12.8h-12zM1426.6 847.8h12v12.8h-12zM1434.6 848.9h12v12.8h-12zM1442.7 850.3h12v12.8h-12zM1450.7 851.7h12v12.8h-12zM1458.8 853h12v12.8h-12zM1466.9 853.9h12v12.8h-12zM1474.9 854.7h12v12.8h-12zM1483 855.5h12v12.8h-12zM1491 856.2h12v12.8h-12zM1499.1 856.9h12v12.8h-12zM1507.2 857.6h12v12.8h-12zM1515.2 858.3h12v12.8h-12zM1523.3 859h12v12.8h-12zM1531.3 859.8h12v12.8h-12zM1539.4 860.6h12v12.8h-12zM1547.5 861.5h12v12.8h-12zM1555.5 862.4h12v12.8h-12zM1563.6 863.3h12v12.8h-12zM1571.6 864.2h12v12.8h-12zM1579.7 865h12v12.8h-12zM1587.8 865.7h12v12.8h-12zM1595.8 866.4h12v12.8h-12zM1603.9 867.2h12v12.8h-12zM1611.9 868.1h12v12.8h-12zM1620 869.1h12v12.8h-12zM1628.1 870.3h12v12.8h-12zM1636.1 871.6h12v12.8h-12zM1644.2 873h12v12.8h-12zM1652.2 874.5h12v12.8h-12zM1660.3 876.1h12v12.8h-12zM1668.4 877.7h12v12.8h-12zM1676.4 879.5h12v12.8h-12zM1684.5 881.3h12v12.8h-12zM1692.5 883.1h12v12.8h-12zM1700.6 885h12v12.8h-12zM1708.7 886.7h12v12.8h-12zM1716.7 888.5h12v12.8h-12z"/>
<g shape-rendering="crispEdges">
<rect x="486" y="713.3" width="15.8" height="17.3" fill="#000"/>
<ellipse cx="494.45" cy="779.6" rx="8.75" ry="10.35" fill="#f00"/>
<path d="M494.65 817.7L506.3 839.5H483z" fill="#0f0"/>
<path d="M483 876.8H506.3L494.65 898.8z" fill="#00f"/>
<path d="M495.15 922.9L507.3 936.3L495.15 949.7L483 936.3z" fill="#0ff"/>
</g>
<text x="552.4" y="737.4" font-size="41.5" letter-spacing="-1.4">un-modif.</text>
<text x="554" y="795" font-size="41.5" letter-spacing="-1.4">1% TPU</text>
<text x="554" y="845.8" font-size="41.5" letter-spacing="-1.4">2% TPU</text>
<text x="554" y="898.5" font-size="41.5" letter-spacing="-1.4">3% TPU</text>
<text x="554" y="950.4" font-size="41.5" letter-spacing="-1.4">4% TPU</text>
</svg>
</body></html>
